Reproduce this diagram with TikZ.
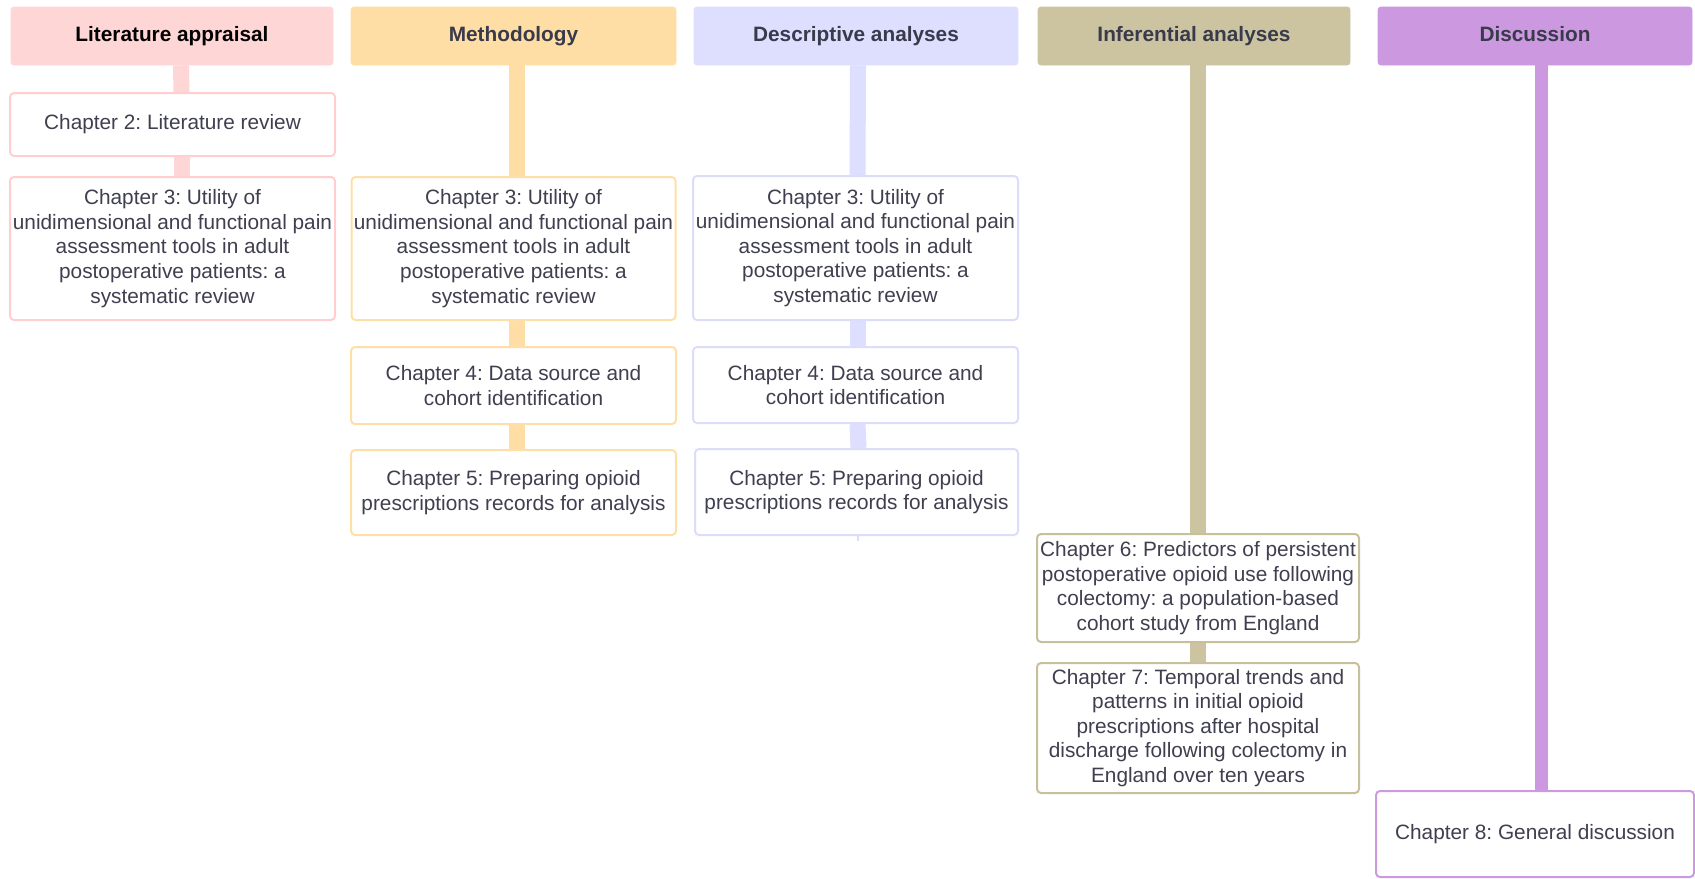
\documentclass[tikz,border=0pt]{standalone}
\usepackage{fontspec}
\setmainfont{Liberation Sans}
\frenchspacing
\usetikzlibrary{backgrounds}
\definecolor{txt}{HTML}{3F3F50}
\definecolor{hdtxt}{HTML}{393A4B}
\definecolor{cpink}{HTML}{FFD6D6}
\definecolor{cpinkb}{HTML}{FFCFCF}
\definecolor{corange}{HTML}{FFDEA6}
\definecolor{corangeb}{HTML}{FFDFA8}
\definecolor{clav}{HTML}{DEDEFF}
\definecolor{clavb}{HTML}{DCDCFB}
\definecolor{ckhaki}{HTML}{CCC4A0}
\definecolor{ckhakib}{HTML}{C8C09C}
\definecolor{cpurple}{HTML}{CC99E0}
\definecolor{cpurpleb}{HTML}{CC9ADF}
\begin{document}
\begin{tikzpicture}[x=0.5pt,y=-0.5pt,
  every node/.style={font=\fontsize{10.4pt}{12.3pt}\selectfont, align=center, inner sep=0pt},
  hdr/.style={fill=#1, draw=#1, rounded corners=1.5pt, minimum height=29pt, text height=7.6pt, text depth=2.2pt, font=\fontsize{10.4pt}{12.3pt}\selectfont\bfseries, text=hdtxt},
  bx/.style={draw=#1, fill=white, line width=1pt, rounded corners=2pt, text=txt},
  conn/.style={draw=#1, line width=8pt}
]
\useasboundingbox (0,0) rectangle (1695,878);

% headers
\node[hdr=cpink, text=black, minimum width=161pt] (lh) at (172,36) {Literature appraisal};
\node[hdr=corange, minimum width=162.5pt] (mh) at (513.5,36) {Methodology};
\node[hdr=clav, minimum width=162pt] (dh) at (856,36) {Descriptive analyses};
\node[hdr=ckhaki, minimum width=156pt] (ih) at (1194,36) {Inferential analyses};
\node[hdr=cpurple, minimum width=157pt] (xh) at (1535,36) {Discussion};

% literature appraisal
\node[bx=cpinkb, minimum width=162.5pt, minimum height=31.5pt] (L2) at (172.5,124.5) {Chapter 2: Literature review};
\node[bx=cpinkb, minimum width=162.5pt, minimum height=71.5pt] (L3) at (172.5,248.5) {Chapter 3: Utility of\\unidimensional and functional pain\\assessment tools in adult\\postoperative patients: a\\systematic review};

% methodology
\node[bx=corangeb, minimum width=162pt, minimum height=71.5pt] (M3) at (513.5,248.5) {Chapter 3: Utility of\\unidimensional and functional pain\\assessment tools in adult\\postoperative patients: a\\systematic review};
\node[bx=corangeb, minimum width=162.5pt, minimum height=38.5pt] (M4) at (513.5,385.5) {Chapter 4: Data source and\\cohort identification};
\node[bx=corangeb, minimum width=162.5pt, minimum height=42.5pt] (M5) at (513.5,492.5) {Chapter 5: Preparing opioid\\prescriptions records for analysis};

% descriptive
\node[bx=clavb, minimum width=162.5pt, minimum height=72pt] (D3) at (855.5,248) {Chapter 3: Utility of\\unidimensional and functional pain\\assessment tools in adult\\postoperative patients: a\\systematic review};
\node[bx=clavb, minimum width=162.5pt, minimum height=38pt] (D4) at (855.5,385) {Chapter 4: Data source and\\cohort identification};
\node[bx=clavb, minimum width=161.5pt, minimum height=43pt] (D5) at (856.5,492) {Chapter 5: Preparing opioid\\prescriptions records for analysis};
\coordinate (Dend) at (858,541);

% inferential
\node[bx=ckhakib, minimum width=161pt, minimum height=54pt] (I6) at (1198,588) {Chapter 6: Predictors of persistent\\postoperative opioid use following\\colectomy: a population-based\\cohort study from England};
\node[bx=ckhakib, minimum width=161pt, minimum height=65pt] (I7) at (1198,728) {Chapter 7: Temporal trends and\\patterns in initial opioid\\prescriptions after hospital\\discharge following colectomy in\\England over ten years};

% discussion
\node[bx=cpurpleb, minimum width=159pt, minimum height=43pt] (X8) at (1535,834) {Chapter 8: General discussion};

% connectors
\begin{scope}[on background layer]
\draw[conn=cpink] ([xshift=4.5pt]lh.south) -- ([xshift=4.5pt]L2.north);
\draw[conn=cpink] ([xshift=4.5pt]L2.south) -- ([xshift=4.5pt]L3.north);
\draw[conn=corange] ([xshift=1.5pt]mh.south) -- ([xshift=1.5pt]M3.north);
\draw[conn=corange] ([xshift=1.5pt]M3.south) -- ([xshift=1.5pt]M4.north);
\draw[conn=corange] ([xshift=1.5pt]M4.south) -- ([xshift=1.5pt]M5.north);
\draw[conn=clav] ([xshift=1pt]dh.south) -- ([xshift=1pt]D3.north);
\draw[conn=clav] ([xshift=1pt]D3.south) -- ([xshift=1pt]D4.north);
\draw[conn=clav] ([xshift=1pt]D4.south) -- ([xshift=1pt]D5.north);
\draw[draw=clavb, line width=0.8pt] (D5.south -| Dend) -- (Dend);
\draw[conn=ckhaki] ([xshift=2pt]ih.south) -- ([xshift=2pt]ih.south |- I6.north);
\draw[conn=ckhaki] (I6.south) -- (I7.north);
\draw[conn=cpurple, line width=6.5pt] ([xshift=3pt]xh.south) -- ([xshift=3pt]xh.south |- X8.north);
\end{scope}
\end{tikzpicture}
\end{document}
